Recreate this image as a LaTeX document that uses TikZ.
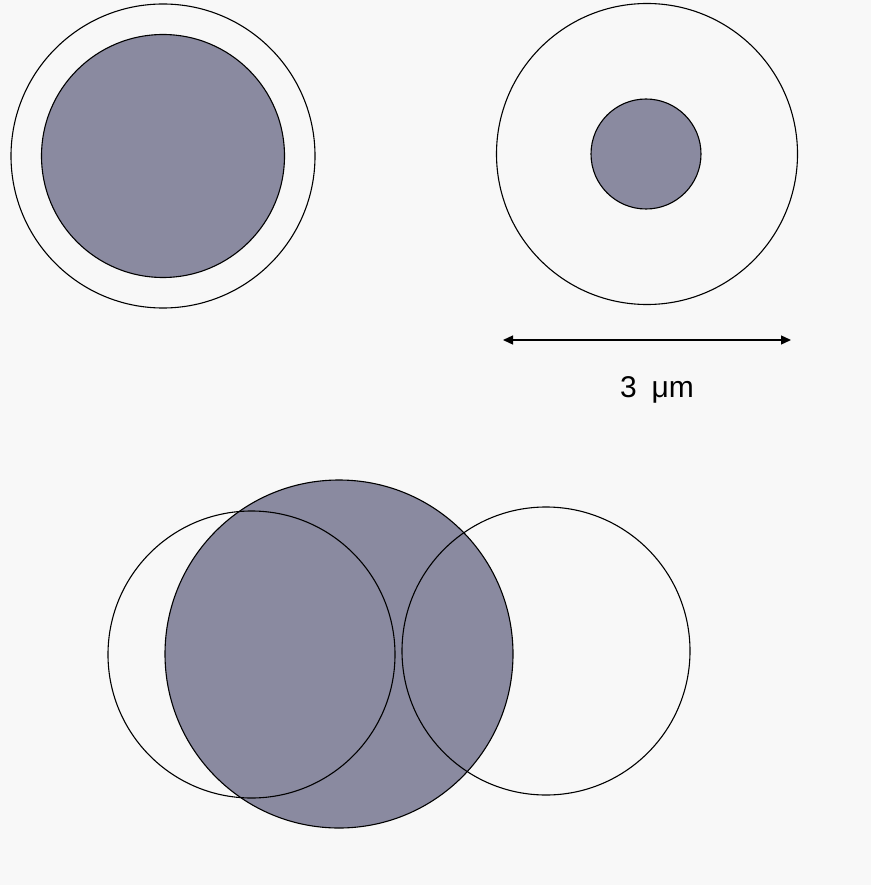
\documentclass[tikz,border=0pt]{standalone}
\usepackage{fontspec}
\setmainfont{Liberation Sans}
\usetikzlibrary{arrows.meta,positioning}
\definecolor{cellfill}{RGB}{138,138,160}
\definecolor{paper}{RGB}{248,248,248}

\begin{document}
\begin{tikzpicture}[x=1pt, y=-1pt,
    ring/.style={draw, circle, line width=1.1pt, inner sep=0pt, outer sep=0pt},
    core/.style={ring, fill=cellfill},
    lbl/.style={font=\fontsize{30}{35}\selectfont, inner sep=0pt, anchor=base}
]
    \fill[paper] (0,0) rectangle (871,885);
    \useasboundingbox (0,0) rectangle (871,885);

    % top left
    \node[ring, minimum size=304pt] (outA) at (163,156) {};
    \node[core, minimum size=243pt] (inA) at (163,156) {};

    % top right
    \node[ring, minimum size=301pt] (outB) at (647,154) {};
    \node[core, minimum size=110pt] (inB) at (646,154) {};

    % scale bar
    \coordinate (barL) at (503,340);
    \coordinate (barR) at (791,340);
    \draw[line width=1.3pt, {Triangle[length=10pt,width=9pt]}-{Triangle[length=10pt,width=9pt]}] (barL) -- (barR);
    \node[lbl] (scale) at (657,397) {3\hspace{0.5em}μm};

    % bottom
    \node[core, minimum size=348pt] (big) at (339,654) {};
    \node[ring, minimum size=287pt] (left) at (251.5,654.5) {};
    \node[ring, minimum size=288pt] (right) at (546,651) {};
\end{tikzpicture}
\end{document}
